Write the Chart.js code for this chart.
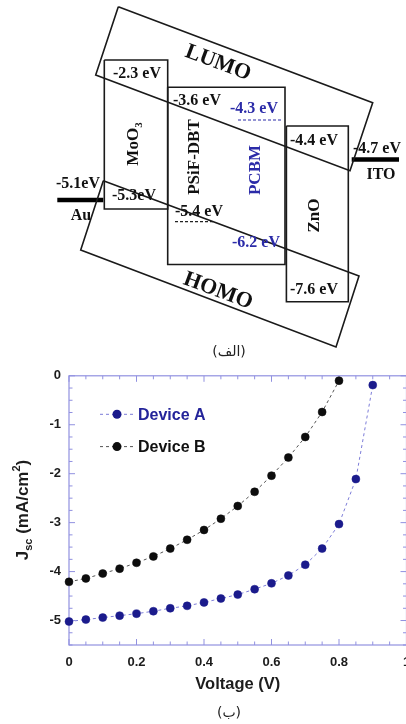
<!DOCTYPE html>
<html><head><meta charset="utf-8">
<script src="https://cdn.jsdelivr.net/npm/chart.js@4.4.1/dist/chart.umd.min.js"></script>
<style>
html,body{margin:0;padding:0;background:#fff;overflow:hidden;width:406px;height:724px}
#wrap{position:relative;width:406px;height:724px;overflow:hidden;background:#fff}
#diag{position:absolute;left:0;top:0}
#jv{position:absolute;left:0;top:360px}
</style></head><body>
<div id="wrap"><canvas id="diag" width="406" height="360"></canvas><canvas id="jv" width="440" height="364"></canvas></div>
<script>
// ================= DATA =================
// (b) J–V curves
const voltageA = [0, 0.05, 0.1, 0.15, 0.2, 0.25, 0.3, 0.35, 0.4, 0.45, 0.5, 0.55, 0.6, 0.65, 0.7, 0.75, 0.8, 0.85, 0.9];
const jscA     = [-5.02, -4.98, -4.94, -4.90, -4.86, -4.81, -4.75, -4.70, -4.63, -4.55, -4.47, -4.36, -4.24, -4.08, -3.86, -3.53, -3.03, -2.11, -0.19];
const voltageB = [0, 0.05, 0.1, 0.15, 0.2, 0.25, 0.3, 0.35, 0.4, 0.45, 0.5, 0.55, 0.6, 0.65, 0.7, 0.75, 0.8];
const jscB     = [-4.21, -4.14, -4.04, -3.94, -3.82, -3.69, -3.53, -3.35, -3.15, -2.92, -2.66, -2.37, -2.04, -1.67, -1.25, -0.74, -0.10];
const seriesNames = ['Device A', 'Device B'];
const xTickValues = [0, 0.2, 0.4, 0.6, 0.8, 1];
const yTickValues = [0, -1, -2, -3, -4, -5];
const xAxisTitle = 'Voltage (V)';

// (a) energy level diagram
const layerNames = ['MoO3', 'PSiF-DBT', 'PCBM', 'ZnO'];
const lumoEV = [-2.3, -3.6, -4.3, -4.4];
const homoEV = [-5.3, -5.4, -6.2, -7.6];
const electrodeNames = ['Au', 'ITO'];
const workFunctionEV = [-5.1, -4.7];
const bandNames = ['LUMO', 'HOMO'];
const captions = ['(الف)', '(ب)'];

// ================= SCHEMATIC LAYOUT (diagram units, not to scale) =================
const schematic = {
  boxes: [ // MoO3, PSiF-DBT, ZnO frames  [x0,y0,x1,y1]
    [104.3, 60, 167.7, 209],
    [167.7, 87.3, 285, 264.5],
    [286.4, 126, 348.3, 301.7]
  ],
  bands: [ // tilted LUMO / HOMO frames
    [[118.3, 6.7], [372.7, 102.7], [350, 170.7], [95.7, 75]],
    [[103.3, 180.7], [359, 276], [336, 347], [80.7, 250]]
  ],
  bandText: [[218, 63], [218, 291]],
  dashed: [ // PCBM LUMO, PSiF-DBT HOMO
    {x0: 238, x1: 282, y: 120, color: '#2b2ba8'},
    {x0: 175, x1: 215, y: 221.7, color: '#222'}
  ],
  bars: [[57.3, 103.3, 200], [351.7, 399, 159.5]],
  lumoText: [[113, 74], [173, 101], [230, 108.5], [290, 141]],
  homoText: [[112, 196], [175, 212], [232, 243], [290, 290]],
  homoCompact: [true, false, false, false],
  wfText: [[56, 184], [353, 148.5]],
  wfCompact: [true, false],
  electrodeText: [[81, 215.5], [381, 174.5]],
  layerText: [[134, 144], [195, 157], [255.5, 170], [315, 215.5]],
  layerColor: ['#111', '#111', '#2b2ba8', '#111']
};

const fmtEV = (v, compact) => v.toFixed(1) + (compact ? 'eV' : ' eV');

// ================= CHART (a) =================
const rectPts = b => [{x:b[0],y:b[1]},{x:b[2],y:b[1]},{x:b[2],y:b[3]},{x:b[0],y:b[3]},{x:b[0],y:b[1]}];
const polyPts = p => p.concat([p[0]]).map(q => ({x:q[0], y:q[1]}));
const lineDs = (data, color, width, dash) => ({data, showLine:true, borderColor:color, borderWidth:width,
  borderDash:dash || [], pointRadius:0, fill:false, tension:0, clip:false, borderJoinStyle:'miter'});

const diagDatasets = [];
schematic.bands.forEach(p => diagDatasets.push(lineDs(polyPts(p), '#1a1a1a', 1.6)));
schematic.boxes.forEach(b => diagDatasets.push(lineDs(rectPts(b), '#1a1a1a', 1.6)));
schematic.dashed.forEach(d => diagDatasets.push(lineDs([{x:d.x0,y:d.y},{x:d.x1,y:d.y}], d.color, 1.2, [3,2])));
schematic.bars.forEach(b => diagDatasets.push(lineDs([{x:b[0],y:b[2]},{x:b[1],y:b[2]}], '#000', 4.5)));

const diagText = {
  id: 'diagText',
  afterDatasetsDraw(chart) {
    const {ctx, scales:{x, y}} = chart;
    const P = (a, b) => [x.getPixelForValue(a), y.getPixelForValue(b)];
    const serif = 'Liberation Serif, Times New Roman, serif';
    ctx.save();
    ctx.textBaseline = 'middle';
    ctx.textAlign = 'left';
    ctx.font = `bold 16px ${serif}`;
    lumoEV.forEach((v, i) => {
      const [px, py] = P(...schematic.lumoText[i]);
      ctx.fillStyle = schematic.layerColor[i];
      ctx.fillText(fmtEV(v, false), px, py);
    });
    homoEV.forEach((v, i) => {
      const [px, py] = P(...schematic.homoText[i]);
      ctx.fillStyle = schematic.layerColor[i];
      ctx.fillText(fmtEV(v, schematic.homoCompact[i]), px, py);
    });
    ctx.fillStyle = '#111';
    workFunctionEV.forEach((v, i) => {
      const [px, py] = P(...schematic.wfText[i]);
      ctx.fillText(fmtEV(v, schematic.wfCompact[i]), px, py);
    });
    ctx.textAlign = 'center';
    electrodeNames.forEach((n, i) => {
      const [px, py] = P(...schematic.electrodeText[i]);
      ctx.fillText(n, px, py);
    });
    // layer names, vertical
    layerNames.forEach((n, i) => {
      const [px, py] = P(...schematic.layerText[i]);
      ctx.save();
      ctx.translate(px, py);
      ctx.rotate(-Math.PI / 2);
      ctx.fillStyle = schematic.layerColor[i];
      const m = n.match(/^(.*?)(\d+)$/);
      if (m) {
        ctx.font = `bold 17px ${serif}`;
        const w1 = ctx.measureText(m[1]).width;
        ctx.font = `bold 11px ${serif}`;
        const w2 = ctx.measureText(m[2]).width;
        const start = -(w1 + w2) / 2;
        ctx.textAlign = 'left';
        ctx.font = `bold 17px ${serif}`;
        ctx.fillText(m[1], start, 0);
        ctx.font = `bold 11px ${serif}`;
        ctx.fillText(m[2], start + w1, 5);
      } else {
        ctx.font = `bold 17px ${serif}`;
        ctx.fillText(n, 0, 0);
      }
      ctx.restore();
    });
    // band names, tilted
    bandNames.forEach((n, i) => {
      const [px, py] = P(...schematic.bandText[i]);
      const p = schematic.bands[i];
      const ang = Math.atan2(y.getPixelForValue(p[1][1]) - y.getPixelForValue(p[0][1]),
                             x.getPixelForValue(p[1][0]) - x.getPixelForValue(p[0][0]));
      ctx.save();
      ctx.translate(px, py);
      ctx.rotate(ang);
      ctx.fillStyle = '#111';
      ctx.font = `bold 22px ${serif}`;
      ctx.textAlign = 'center';
      ctx.fillText(n, 0, 0);
      ctx.restore();
    });
    // caption
    ctx.font = '14px DejaVu Sans, sans-serif';
    ctx.fillStyle = '#222';
    ctx.textAlign = 'center';
    const [cx, cy] = P(229, 352);
    ctx.fillText(captions[0], cx, cy);
    ctx.restore();
  }
};

new Chart(document.getElementById('diag'), {
  type: 'scatter',
  data: {datasets: diagDatasets},
  options: {
    animation: false, responsive: false,
    layout: {padding: 0},
    plugins: {legend: {display: false}, tooltip: {enabled: false}},
    scales: {
      x: {type: 'linear', min: 0, max: 406, display: false},
      y: {type: 'linear', min: 0, max: 360, reverse: true, display: false}
    }
  },
  plugins: [diagText]
});

// ================= CHART (b) =================
const axisColor = '#9191e0';
const textColor = '#1c1c1c';
const sansFont = 'Liberation Sans, Arial, Helvetica, sans-serif';
const xMinorStep = 0.05, yMinorStep = 0.25;

const frameTicks = {
  id: 'frameTicks',
  beforeDatasetsDraw(chart) {
    const {ctx, chartArea: a, scales:{x, y}} = chart;
    ctx.save();
    ctx.strokeStyle = axisColor;
    ctx.lineWidth = 1.2;
    ctx.strokeRect(a.left, a.top, a.right - a.left, a.bottom - a.top);
    ctx.lineWidth = 1;
    ctx.beginPath();
    for (let k = 0; k <= Math.round((x.max - x.min) / xMinorStep); k++) {
      const v = x.min + k * xMinorStep;
      const major = xTickValues.some(t => Math.abs(t - v) < 1e-6);
      const L = major ? 6 : 3.5;
      const px = x.getPixelForValue(v);
      ctx.moveTo(px, a.bottom); ctx.lineTo(px, a.bottom - L);
      ctx.moveTo(px, a.top); ctx.lineTo(px, a.top + L);
    }
    for (let k = 0; k <= Math.round((y.max - y.min) / yMinorStep); k++) {
      const v = y.min + k * yMinorStep;
      const major = yTickValues.some(t => Math.abs(t - v) < 1e-6);
      const L = major ? 6 : 3.5;
      const py = y.getPixelForValue(v);
      ctx.moveTo(a.left, py); ctx.lineTo(a.left + L, py);
      ctx.moveTo(a.right, py); ctx.lineTo(a.right - L, py);
    }
    ctx.stroke();
    ctx.restore();
  }
};

const legendLayout = {lineX0: 100, lineX1: 134, markX: 117, textX: 138, rowY: [38.5, 70.8]};
const legendTextColors = ['#24249a', '#111'];
const insideLegend = {
  id: 'insideLegend',
  afterDatasetsDraw(chart) {
    const {ctx, chartArea: a} = chart;
    ctx.save();
    chart.data.datasets.forEach((ds, i) => {
      const yy = a.top + legendLayout.rowY[i];
      ctx.strokeStyle = ds.borderColor;
      ctx.lineWidth = ds.borderWidth;
      ctx.setLineDash(ds.borderDash);
      ctx.beginPath();
      ctx.moveTo(legendLayout.lineX0, yy); ctx.lineTo(legendLayout.lineX1, yy);
      ctx.stroke();
      ctx.setLineDash([]);
      ctx.fillStyle = ds.pointBackgroundColor;
      ctx.beginPath();
      ctx.arc(legendLayout.markX, yy, ds.pointRadius + 0.5, 0, Math.PI * 2);
      ctx.fill();
      ctx.fillStyle = legendTextColors[i];
      ctx.font = `bold 16px ${sansFont}`;
      ctx.textBaseline = 'middle';
      ctx.textAlign = 'left';
      ctx.fillText(ds.label, legendLayout.textX, yy + 1);
    });
    ctx.restore();
  }
};

const yTitle = {
  id: 'yTitle',
  afterDraw(chart) {
    const {ctx} = chart;
    const parts = [
      {t: 'J', s: 17, dy: 0},
      {t: 'sc', s: 11, dy: 4},
      {t: ' (mA/cm', s: 17, dy: 0},
      {t: '2', s: 11, dy: -8},
      {t: ')', s: 17, dy: 0}
    ];
    ctx.save();
    let W = 0;
    parts.forEach(p => { ctx.font = `bold ${p.s}px ${sansFont}`; p.w = ctx.measureText(p.t).width; W += p.w; });
    ctx.translate(22, 150);
    ctx.rotate(-Math.PI / 2);
    ctx.fillStyle = textColor;
    ctx.textBaseline = 'alphabetic';
    ctx.textAlign = 'left';
    let cx = -W / 2;
    parts.forEach(p => { ctx.font = `bold ${p.s}px ${sansFont}`; ctx.fillText(p.t, cx, 6 + p.dy); cx += p.w; });
    ctx.restore();
    // caption
    ctx.save();
    ctx.font = '14px DejaVu Sans, sans-serif';
    ctx.fillStyle = '#222';
    ctx.textAlign = 'center';
    ctx.textBaseline = 'middle';
    ctx.fillText(captions[1], 229, 353);
    ctx.restore();
  }
};

new Chart(document.getElementById('jv'), {
  type: 'scatter',
  data: {
    datasets: [
      {label: seriesNames[0], data: voltageA.map((v, i) => ({x: v, y: jscA[i]})), showLine: true,
       borderColor: '#7c7cd8', borderWidth: 1, borderDash: [3, 3], tension: 0,
       pointBackgroundColor: '#1b1b8c', pointBorderColor: '#1b1b8c', pointBorderWidth: 0.5, pointRadius: 4, clip: false},
      {label: seriesNames[1], data: voltageB.map((v, i) => ({x: v, y: jscB[i]})), showLine: true,
       borderColor: '#555', borderWidth: 1, borderDash: [3, 3], tension: 0,
       pointBackgroundColor: '#0d0d0d', pointBorderColor: '#0d0d0d', pointBorderWidth: 0.5, pointRadius: 4, clip: false}
    ]
  },
  options: {
    animation: false, responsive: false,
    layout: {padding: {top: 13.3, right: 33.5, left: 0, bottom: 0}},
    plugins: {legend: {display: false}, tooltip: {enabled: false}},
    scales: {
      x: {
        type: 'linear', min: 0, max: 1,
        afterBuildTicks(s) { s.ticks = xTickValues.map(v => ({value: v})); },
        afterFit(s) { s.height = 79; },
        grid: {display: false, drawTicks: false},
        border: {display: false},
        ticks: {padding: 10, color: textColor, font: {family: sansFont, size: 13, weight: 'bold'}, callback: v => String(v), maxRotation: 0},
        title: {display: true, text: xAxisTitle, color: textColor, font: {family: sansFont, size: 16.5, weight: 'bold'}, padding: {top: 0, bottom: 30}}
      },
      y: {
        type: 'linear', min: -5.5, max: 0,
        afterBuildTicks(s) { s.ticks = yTickValues.map(v => ({value: v})); },
        afterFit(s) { s.width = 69; },
        grid: {display: false, drawTicks: false},
        border: {display: false},
        ticks: {padding: 8, color: textColor, font: {family: sansFont, size: 13, weight: 'bold'}, callback: v => String(v)}
      }
    }
  },
  plugins: [frameTicks, insideLegend, yTitle]
});
</script>
</body></html>
